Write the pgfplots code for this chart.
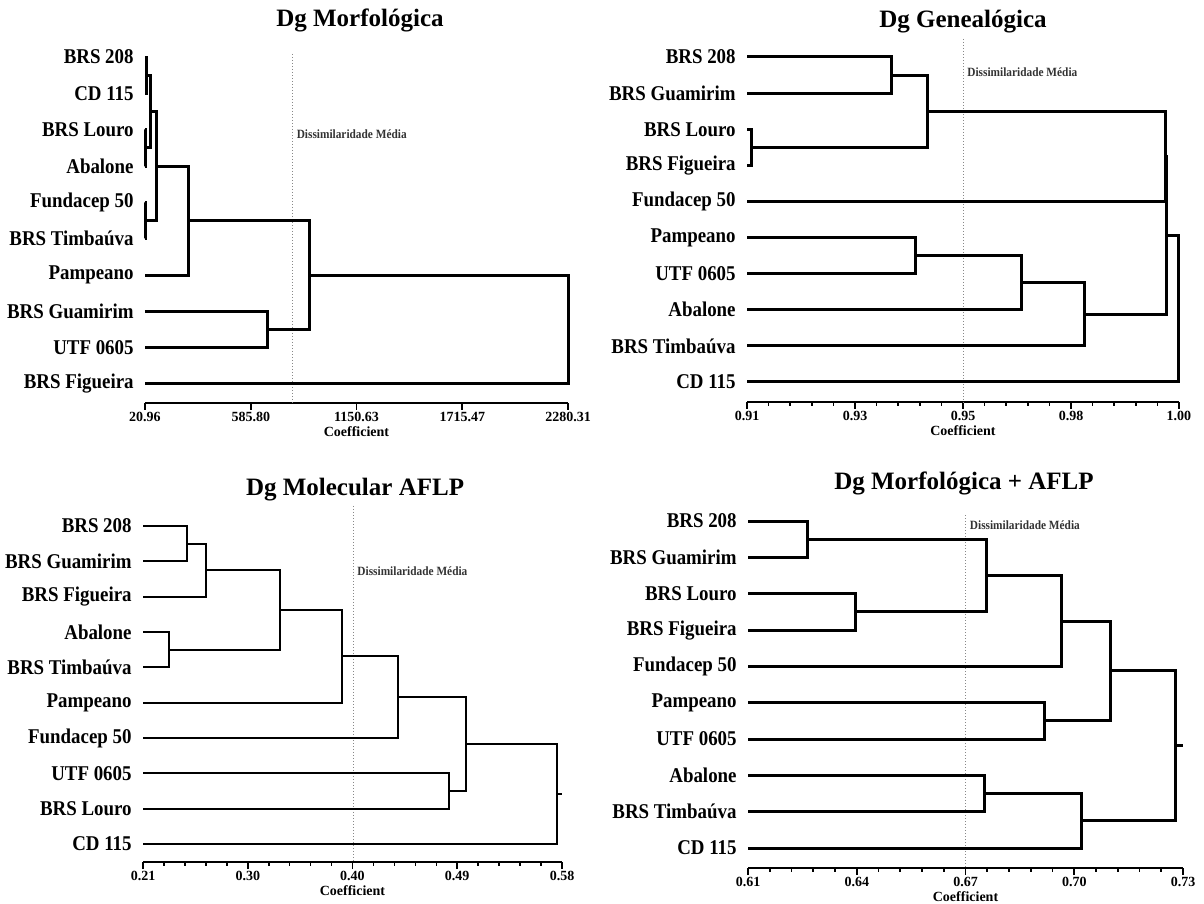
\documentclass[border=0pt]{standalone}
\usepackage{fontspec}
\setmainfont{Liberation Serif}
\newfontfamily\condfont[FakeStretch=0.9]{Liberation Serif}
\usepackage{pgfplots}
\pgfplotsset{compat=1.18}
\definecolor{dashcol}{HTML}{888888}
\definecolor{dtext}{HTML}{333333}
\pgfplotsset{
  dendro/.style={
    scale only axis, clip=false,
    axis x line*=bottom, axis y line*=left,
    x axis line style={-, line width=1pt},
    y axis line style={draw=none},
    ytick={0,...,9}, ymax=10,
    tick align=outside,
    minor x tick num=4,
    major tick length=3.5pt, minor tick length=1.8pt,
    xtick style={black, line width=0.8pt},
    ytick style={draw=none},
    /pgf/number format/assume math mode=true,
    xticklabel style={font=\bfseries\fontsize{7}{8}\selectfont, inner sep=1pt},
    yticklabel style={font=\condfont\bfseries\fontsize{10.5}{12}\selectfont, inner sep=2pt},
    xlabel={Coefficient},
    xlabel style={font=\bfseries\fontsize{7}{8}\selectfont, inner sep=1pt},
  },
  dl/.style={black, line width=1.5pt, line join=miter, mark=none},
  dm/.style={dashcol, densely dotted, line width=0.5pt, mark=none},
}
\newcommand{\dtxt}{\condfont\fontsize{6.3}{7}\bfseries\selectfont}
\newcommand{\ttl}{\bfseries\fontsize{12.5}{14}\selectfont}
\begin{document}
\begin{tikzpicture}
\path[use as bounding box] (0,0) rectangle (602pt,452pt);

% ---------------- Panel 1: Dg Morfologica ----------------
\begin{axis}[dendro, at={(72.5pt,250.5pt)}, anchor=south west,
  width=211.5pt, height=191.15pt,
  xmin=20.96, xmax=2280.31, ymin=-0.523,
  xtick={20.96,585.80,1150.63,1715.47,2280.31},
  xticklabels={20.96,585.80,1150.63,1715.47,2280.31},
  yticklabels={BRS Figueira,UTF 0605,BRS Guamirim,Pampeano,BRS Timbaúva,Fundacep 50,Abalone,BRS Louro,CD 115,BRS 208}]
\addplot[dm] coordinates {(808,9.09) (808,-0.523)};
\node[anchor=west, font=\dtxt, text=dtext, inner sep=2pt] at (axis cs:808,6.88) {Dissimilaridade Média};
\addplot[dl] coordinates {(20.96,9) (30,9) (30,8) (20.96,8)};
\addplot[dl] coordinates {(20.96,7) (24,7) (24,6) (20.96,6)};
\addplot[dl] coordinates {(30,8.5) (52,8.5) (52,6.5) (24,6.5)};
\addplot[dl] coordinates {(20.96,5) (24,5) (24,4) (20.96,4)};
\addplot[dl] coordinates {(52,7.5) (82,7.5) (82,4.5) (24,4.5)};
\addplot[dl] coordinates {(82,6) (252,6) (252,3) (20.96,3)};
\addplot[dl] coordinates {(20.96,2) (675,2) (675,1) (20.96,1)};
\addplot[dl] coordinates {(252,4.5) (900,4.5) (900,1.5) (675,1.5)};
\addplot[dl] coordinates {(900,3) (2280.31,3) (2280.31,0) (20.96,0)};
\end{axis}
\node[font=\ttl] at (180pt,442pt) {Dg Morfológica};

% ---------------- Panel 2: Dg Genealogica ----------------
\begin{axis}[dendro, at={(373.5pt,251pt)}, anchor=south west,
  width=216pt, height=190.56pt,
  xmin=0.91, xmax=1.0, ymin=-0.554,
  xtick={0.91,0.9325,0.955,0.9775,1.0},
  xticklabels={0.91,0.93,0.95,0.98,1.00},
  yticklabels={CD 115,BRS Timbaúva,Abalone,UTF 0605,Pampeano,Fundacep 50,BRS Figueira,BRS Louro,BRS Guamirim,BRS 208}]
\addplot[dm] coordinates {(0.955,9.5) (0.955,-0.554)};
\node[anchor=west, font=\dtxt, text=dtext, inner sep=2pt] at (axis cs:0.955,8.58) {Dissimilaridade Média};
\addplot[dl] coordinates {(0.91,9) (0.9402,9) (0.9402,8) (0.91,8)};
\addplot[dl] coordinates {(0.91,7) (0.9109,7) (0.9109,6) (0.91,6)};
\addplot[dl] coordinates {(0.9402,8.5) (0.9477,8.5) (0.9477,6.5) (0.9109,6.5)};
\addplot[dl] coordinates {(0.9477,7.5) (0.9971,7.5) (0.9971,5) (0.91,5)};
\addplot[dl] coordinates {(0.91,4) (0.945,4) (0.945,3) (0.91,3)};
\addplot[dl] coordinates {(0.945,3.5) (0.9672,3.5) (0.9672,2) (0.91,2)};
\addplot[dl] coordinates {(0.9672,2.75) (0.9803,2.75) (0.9803,1) (0.91,1)};
\addplot[dl] coordinates {(0.9971,6.25) (0.9975,6.25) (0.9975,1.875) (0.9803,1.875)};
\addplot[dl] coordinates {(0.9975,4.0625) (1.0,4.0625) (1.0,0) (0.91,0)};
\end{axis}
\node[font=\ttl] at (481.5pt,441pt) {Dg Genealógica};

% ---------------- Panel 3: Dg Molecular AFLP ----------------
\begin{axis}[dendro, at={(71.5pt,21pt)}, anchor=south west,
  width=209.5pt, height=185.66pt,
  xmin=0.21, xmax=0.58, ymin=-0.51,
  xtick={0.21,0.3025,0.395,0.4875,0.58},
  xticklabels={0.21,0.30,0.40,0.49,0.58},
  yticklabels={CD 115,BRS Louro,UTF 0605,Fundacep 50,Pampeano,BRS Timbaúva,Abalone,BRS Figueira,BRS Guamirim,BRS 208},
  dl/.append style={line width=1.0pt}]
\addplot[dm] coordinates {(0.3955,9.57) (0.3955,-0.51)};
\node[anchor=west, font=\dtxt, text=dtext, inner sep=2pt] at (axis cs:0.3955,7.73) {Dissimilaridade Média};
\addplot[dl] coordinates {(0.21,9) (0.2485,9) (0.2485,8) (0.21,8)};
\addplot[dl] coordinates {(0.2485,8.5) (0.2654,8.5) (0.2654,7) (0.21,7)};
\addplot[dl] coordinates {(0.21,6) (0.2333,6) (0.2333,5) (0.21,5)};
\addplot[dl] coordinates {(0.2654,7.75) (0.3306,7.75) (0.3306,5.5) (0.2333,5.5)};
\addplot[dl] coordinates {(0.3306,6.625) (0.3854,6.625) (0.3854,4) (0.21,4)};
\addplot[dl] coordinates {(0.3854,5.3125) (0.4354,5.3125) (0.4354,3) (0.21,3)};
\addplot[dl] coordinates {(0.21,2) (0.4803,2) (0.4803,1) (0.21,1)};
\addplot[dl] coordinates {(0.4354,4.15625) (0.4952,4.15625) (0.4952,1.5) (0.4803,1.5)};
\addplot[dl] coordinates {(0.4952,2.828) (0.5756,2.828) (0.5756,0) (0.21,0)};
\addplot[dl] coordinates {(0.5756,1.414) (0.58,1.414)};
\end{axis}
\node[font=\ttl] at (177.5pt,207pt) {Dg Molecular AFLP};

% ---------------- Panel 4: Dg Morfologica + AFLP ----------------
\begin{axis}[dendro, at={(374pt,18pt)}, anchor=south west,
  width=217.5pt, height=191.6pt,
  xmin=0.61, xmax=0.73, ymin=-0.55,
  xtick={0.61,0.64,0.67,0.70,0.73},
  xticklabels={0.61,0.64,0.67,0.70,0.73},
  yticklabels={CD 115,BRS Timbaúva,Abalone,UTF 0605,Pampeano,Fundacep 50,BRS Figueira,BRS Louro,BRS Guamirim,BRS 208}]
\addplot[dm] coordinates {(0.67,9.16) (0.67,-0.55)};
\node[anchor=west, font=\dtxt, text=dtext, inner sep=2pt] at (axis cs:0.67,8.89) {Dissimilaridade Média};
\addplot[dl] coordinates {(0.61,9) (0.6263,9) (0.6263,8) (0.61,8)};
\addplot[dl] coordinates {(0.61,7) (0.6396,7) (0.6396,6) (0.61,6)};
\addplot[dl] coordinates {(0.6263,8.5) (0.6758,8.5) (0.6758,6.5) (0.6396,6.5)};
\addplot[dl] coordinates {(0.6758,7.5) (0.6964,7.5) (0.6964,5) (0.61,5)};
\addplot[dl] coordinates {(0.61,4) (0.6919,4) (0.6919,3) (0.61,3)};
\addplot[dl] coordinates {(0.6964,6.25) (0.7099,6.25) (0.7099,3.5) (0.6919,3.5)};
\addplot[dl] coordinates {(0.61,2) (0.6752,2) (0.6752,1) (0.61,1)};
\addplot[dl] coordinates {(0.6752,1.5) (0.702,1.5) (0.702,0) (0.61,0)};
\addplot[dl] coordinates {(0.7099,4.875) (0.7279,4.875) (0.7279,0.75) (0.702,0.75)};
\addplot[dl] coordinates {(0.7279,2.8125) (0.73,2.8125)};
\end{axis}
\node[font=\ttl] at (482pt,210.5pt) {Dg Morfológica + AFLP};
\end{tikzpicture}
\end{document}
